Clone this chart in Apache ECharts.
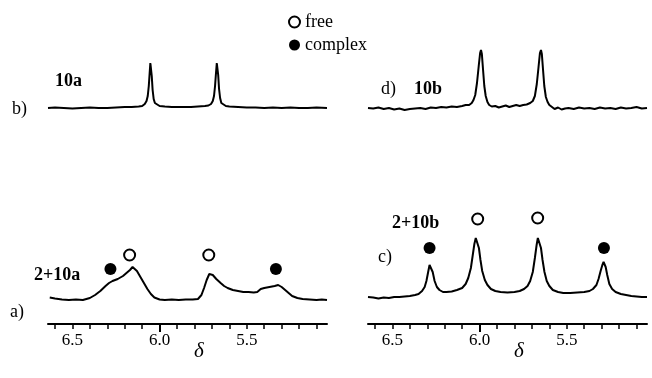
<!DOCTYPE html>
<html>
<head>
<meta charset="utf-8">
<script src="https://cdn.jsdelivr.net/npm/echarts@6/dist/echarts.min.js"></script>
<style>
  html, body { margin: 0; padding: 0; background: #fff; }
  #chart { width: 652px; height: 378px; }
</style>
</head>
<body>
<div id="chart"></div>
<script>
// chemical shift range shown on every panel (ppm, reversed axis)
var ppmMin = 5.04
var ppmMax = 6.64
var tickLabels = [6.5, 6.0, 5.5]
var tickMarks = [6.6, 6.5, 6.4, 6.3, 6.2, 6.1, 6.0, 5.9, 5.8, 5.7, 5.6, 5.5, 5.4, 5.3, 5.2, 5.1]

// b) 10a alone  [ppm, intensity]
var spec10a = [[6.64,0],[6.60,0.5],[6.55,0],[6.50,-0.5],[6.45,0],[6.40,0.5],[6.35,0],[6.30,0],[6.25,0.5],[6.20,1],[6.16,1],[6.12,1.5],[6.10,2],[6.085,4],[6.075,7],[6.068,12],[6.062,22],[6.057,35],[6.053,45],[6.049,43],[6.045,32],[6.040,18],[6.034,9],[6.027,5],[6.018,3],[6.00,2],[5.97,1.5],[5.93,1],[5.90,1],[5.86,1],[5.82,1],[5.78,1.5],[5.74,2],[5.72,2.5],[5.705,4],[5.695,7],[5.688,12],[5.682,22],[5.677,34],[5.672,45],[5.668,44],[5.664,33],[5.659,19],[5.653,10],[5.646,5],[5.636,3],[5.62,2],[5.60,1.5],[5.55,1],[5.50,0.5],[5.45,0.5],[5.40,0],[5.35,0.5],[5.30,0],[5.25,0.5],[5.20,0],[5.15,0],[5.10,0.5],[5.04,0]]

// d) 10b alone
var spec10b = [[6.64,0],[6.61,-0.5],[6.58,0.5],[6.55,-1],[6.52,0],[6.49,-1.5],[6.46,-0.5],[6.43,-2],[6.40,-1],[6.37,-0.5],[6.34,0],[6.31,-1],[6.28,0.5],[6.25,0],[6.22,1],[6.19,0.5],[6.16,1.5],[6.13,1],[6.10,2],[6.08,3],[6.06,3],[6.045,5],[6.035,8],[6.025,13],[6.015,25],[6.005,42],[5.997,55],[5.992,58],[5.987,54],[5.981,40],[5.973,22],[5.965,12],[5.955,6],[5.945,3],[5.93,1.5],[5.91,2],[5.89,0.5],[5.87,1.5],[5.85,2.5],[5.83,1],[5.81,2],[5.79,3],[5.77,2],[5.75,3],[5.73,3.5],[5.71,5],[5.695,7],[5.683,12],[5.672,24],[5.662,41],[5.654,55],[5.648,58],[5.643,54],[5.637,40],[5.629,22],[5.620,11],[5.61,6],[5.60,3],[5.585,1],[5.57,-1],[5.55,0.5],[5.53,-1.5],[5.51,-0.5],[5.49,0],[5.46,-1],[5.43,0.5],[5.40,-0.5],[5.37,0],[5.34,-1],[5.31,0.5],[5.28,-0.5],[5.25,0],[5.22,-1],[5.19,0.5],[5.16,-0.5],[5.13,0],[5.10,1],[5.07,-0.5],[5.04,0]]

// a) 2 + 10a
var spec2_10a = [[6.63,2.5],[6.60,1.5],[6.56,0.5],[6.52,0],[6.48,0.5],[6.44,0],[6.40,2],[6.37,5],[6.34,9],[6.31,14],[6.29,17],[6.27,19],[6.24,21],[6.21,24],[6.19,27],[6.17,30],[6.155,33],[6.145,33],[6.13,29],[6.11,23],[6.09,17],[6.07,11],[6.05,6],[6.03,2.5],[6.00,0.5],[5.97,0],[5.93,0.5],[5.89,0],[5.85,0.5],[5.81,0.5],[5.78,1],[5.76,5],[5.745,12],[5.73,20],[5.715,26],[5.705,27],[5.695,25],[5.675,21],[5.65,17],[5.63,14],[5.61,12],[5.58,10],[5.55,9],[5.52,8],[5.49,8],[5.46,7.5],[5.44,8],[5.42,11],[5.40,12],[5.37,13],[5.34,14],[5.32,15],[5.30,13],[5.28,10],[5.26,7],[5.24,4],[5.21,2],[5.18,1],[5.14,0.5],[5.10,0],[5.07,0.5],[5.04,0]]

// c) 2 + 10b
var spec2_10b = [[6.64,3],[6.61,2.5],[6.58,1.5],[6.55,2.5],[6.52,2],[6.49,3],[6.46,3],[6.43,3.5],[6.40,4],[6.37,5],[6.35,6],[6.33,9],[6.315,13],[6.305,19],[6.295,28],[6.287,35],[6.282,37],[6.277,35],[6.269,28],[6.258,19],[6.245,13],[6.23,10],[6.21,8],[6.19,8],[6.16,8.5],[6.13,10],[6.10,12],[6.08,16],[6.065,22],[6.05,32],[6.04,44],[6.03,56],[6.022,62],[6.017,63],[6.012,61],[6.004,52],[5.995,40],[5.985,29],[5.97,20],[5.955,15],[5.935,11],[5.91,9],[5.88,8],[5.84,7.5],[5.80,8],[5.77,9],[5.745,11],[5.725,14],[5.71,19],[5.695,28],[5.683,42],[5.673,55],[5.666,62],[5.661,63],[5.656,61],[5.648,52],[5.639,40],[5.628,28],[5.615,19],[5.60,14],[5.58,10],[5.55,8],[5.52,7],[5.48,7],[5.44,7.5],[5.40,8],[5.37,9],[5.35,11],[5.33,15],[5.318,21],[5.306,29],[5.296,35],[5.289,38],[5.284,37],[5.277,33],[5.268,25],[5.256,16],[5.24,11],[5.22,8],[5.19,6],[5.16,5],[5.13,4],[5.10,3.5],[5.07,3],[5.04,3]]

// peak assignment markers
var freeA = [[6.172,45],[5.718,45]]
var complexA = [[6.282,31],[5.333,31]]
var freeB = [[6.011,81],[5.667,82]]
var complexB = [[6.287,52],[5.287,52]]

var serif = "'Liberation Serif','Times New Roman',serif"
var ink = '#000'

var chart = echarts.init(document.getElementById('chart'))

function spectrumAxis(grid, visible) {
	return {
		gridIndex: grid,
		type: 'value',
		inverse: true,
		min: ppmMin,
		max: ppmMax,
		show: visible,
		axisLine: { onZero: false, lineStyle: { color: ink, width: 2 } },
		axisTick: { show: true, customValues: tickMarks, length: 5, lineStyle: { color: ink, width: 1.5 } },
		axisLabel: {
			customValues: tickLabels,
			color: ink, fontFamily: serif, fontSize: 17, margin: 8,
			formatter: function (v) { return v.toFixed(1) }
		},
		splitLine: { show: false }
	}
}

// longer tick at 6.0
function majorTick(grid) {
	return {
		gridIndex: grid, type: 'value', inverse: true, min: ppmMin, max: ppmMax,
		position: 'bottom',
		axisLine: { show: false, onZero: false },
		axisTick: { customValues: [6.0], length: 8, lineStyle: { color: ink, width: 2 } },
		axisLabel: { show: false },
		splitLine: { show: false }
	}
}

function intensityAxis(grid, lo, hi) {
	return { gridIndex: grid, type: 'value', min: lo, max: hi, show: false, splitLine: { show: false } }
}

function trace(name, idx, data) {
	return {
		name: name, type: 'line', xAxisIndex: idx, yAxisIndex: idx,
		data: data, showSymbol: false, silent: true,
		lineStyle: { color: ink, width: 2 }
	}
}

function dots(name, idx, data, hollow) {
	return {
		name: name, type: 'scatter', xAxisIndex: idx, yAxisIndex: idx,
		data: data,
		symbol: hollow ? 'emptyCircle' : 'circle',
		symbolSize: hollow ? 11 : 12,
		silent: true,
		itemStyle: hollow ? { color: ink, borderColor: ink, borderWidth: 1.1, opacity: 1 } : { color: ink, opacity: 1 }
	}
}

function label(text, x, y, opts) {
	opts = opts || {}
	return {
		type: 'text', x: x, y: y,
		style: {
			text: text,
			fill: ink,
			font: (opts.style || '') + ' ' + (opts.weight || 'normal') + ' ' + (opts.size || 18) + 'px ' + serif,
			textAlign: opts.align || 'left', align: opts.align || 'left',
			textVerticalAlign: 'middle', verticalAlign: 'middle'
		}
	}
}

chart.setOption({
	animation: false,
	backgroundColor: '#fff',
	grid: [
		{ left: 48, width: 279, top: 38, height: 80 },   // b)
		{ left: 368, width: 279, top: 38, height: 80 },  // d)
		{ left: 48, width: 279, top: 204, height: 120 }, // a)
		{ left: 368, width: 279, top: 204, height: 120 } // c)
	],
	xAxis: [
		spectrumAxis(0, false),
		spectrumAxis(1, false),
		spectrumAxis(2, true),
		spectrumAxis(3, true),
		majorTick(2),
		majorTick(3)
	],
	yAxis: [
		intensityAxis(0, -10, 70),
		intensityAxis(1, -10, 70),
		intensityAxis(2, -24, 96),
		intensityAxis(3, -24, 96)
	],
	legend: {
		orient: 'vertical',
		left: 288,
		top: 13,
		padding: 0,
		itemWidth: 11,
		itemHeight: 11,
		itemGap: 5,
		selectedMode: false,
		data: ['free', 'complex'],
		textStyle: { color: ink, fontFamily: serif, fontSize: 18 }
	},
	series: [
		trace('10a', 0, spec10a),
		trace('10b', 1, spec10b),
		trace('2+10a', 2, spec2_10a),
		trace('2+10b', 3, spec2_10b),
		dots('free', 2, freeA, true),
		dots('complex', 2, complexA, false),
		dots('free', 3, freeB, true),
		dots('complex', 3, complexB, false)
	],
	graphic: [
		label('10a', 55, 81, { weight: 'bold' }),
		label('b)', 12, 109),
		label('d)', 381, 89),
		label('10b', 414, 89, { weight: 'bold' }),
		label('2+10a', 34, 275, { weight: 'bold' }),
		label('a)', 10, 312),
		label('2+10b', 392, 223, { weight: 'bold' }),
		label('c)', 378, 257),
		label('δ', 199, 351, { style: 'italic', size: 21, align: 'center' }),
		label('δ', 519, 351, { style: 'italic', size: 21, align: 'center' })
	]
})

window.addEventListener('resize', function () {
	chart.resize()
})
</script>
</body>
</html>
